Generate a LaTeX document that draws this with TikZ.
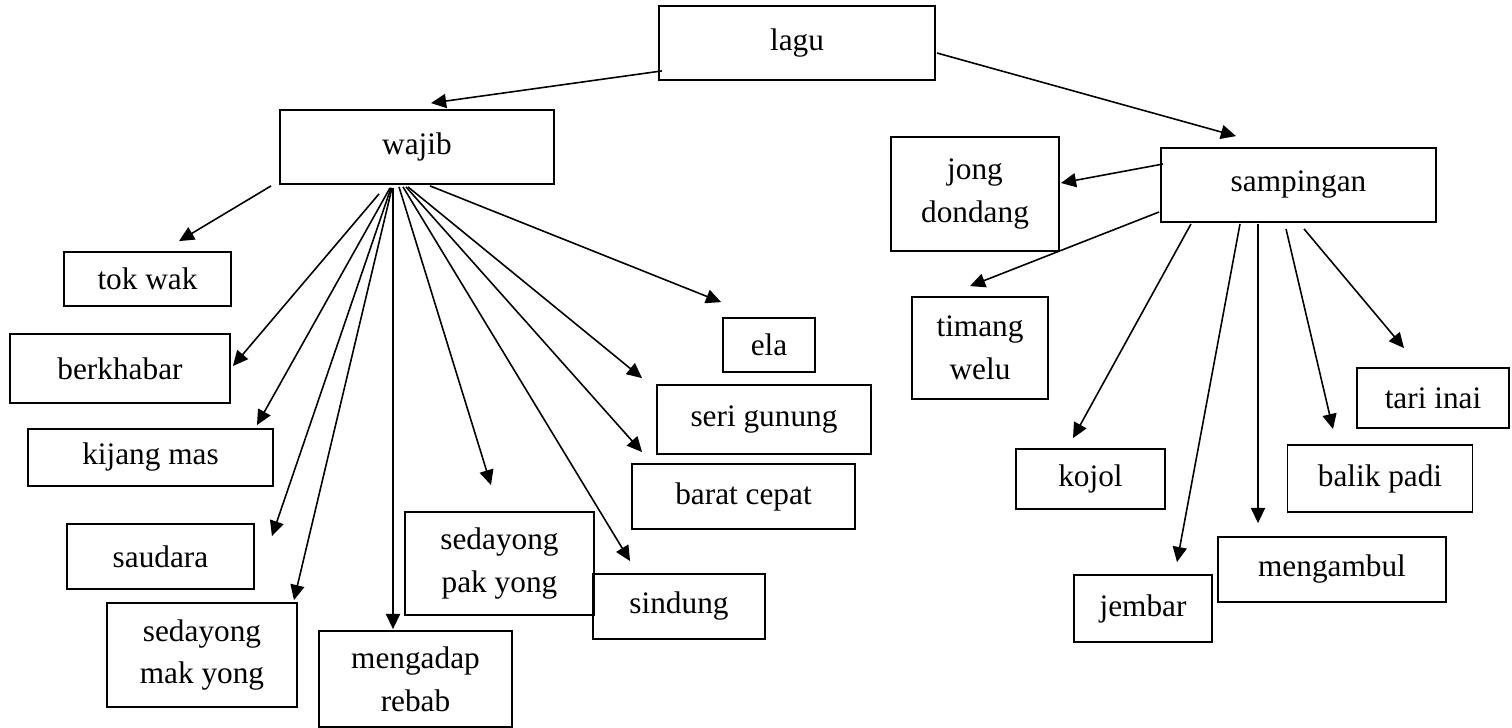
\documentclass[tikz,border=0pt]{standalone}
\usepackage{fontspec}
\setmainfont{Liberation Serif}
\usetikzlibrary{calc,arrows.meta}
\newcommand{\lbl}{\fontsize{8.9}{12.2}\selectfont}

\begin{document}
\begin{tikzpicture}[x=0.01cm,y=-0.01cm,
    box/.style={draw=black,line width=0.5pt,inner sep=0pt,align=center,font=\lbl},
    arr/.style={-{Triangle[length=4.3pt,width=4pt]},line width=0.45pt}]
     \useasboundingbox (0,0) rectangle (1512,727);
     \node[box,minimum width=2.76cm,minimum height=0.74cm] (lagu) at (797,43) {lagu};
     \node[box,minimum width=2.74cm,minimum height=0.74cm] (wajib) at (417,147) {wajib};
     \node[box,minimum width=2.75cm,minimum height=0.74cm] (samp) at (1298.5,185) {sampingan};
     \node[box,minimum width=1.67cm,minimum height=0.54cm] (tokwak) at (147.5,279) {tok wak};
     \node[box,minimum width=2.20cm,minimum height=0.69cm] (berkhabar) at (120,368.5) {berkhabar};
     \node[box,minimum width=2.45cm,minimum height=0.57cm] (kijang) at (150.5,457.5) {kijang mas};
     \node[box,minimum width=1.87cm,minimum height=0.65cm] (saudara) at (160.5,556.5) {saudara};
     \node[box,minimum width=1.90cm,minimum height=1.04cm] (sedmak) at (202,655) {sedayong\\mak yong};
     \node[box,minimum width=1.93cm,minimum height=0.96cm] (mengadap) at (415.5,679) {mengadap\\rebab};
     \node[box,minimum width=1.89cm,minimum height=1.03cm] (sedpak) at (499.5,563.5) {sedayong\\pak yong};
     \node[box,minimum width=1.72cm,minimum height=0.65cm] (sindung) at (679,606.5) {sindung};
     \node[box,minimum width=2.23cm,minimum height=0.65cm] (barat) at (743.5,496.5) {barat cepat};
     \node[box,minimum width=2.14cm,minimum height=0.69cm] (seri) at (764,419.5) {seri gunung};
     \node[box,minimum width=0.92cm,minimum height=0.54cm] (ela) at (769,345) {ela};
     \node[box,minimum width=1.68cm,minimum height=1.14cm] (jong) at (975,194) {jong\\dondang};
     \node[box,minimum width=1.36cm,minimum height=1.02cm] (timang) at (980,348) {timang\\welu};
     \node[box,minimum width=1.49cm,minimum height=0.60cm] (kojol) at (1090.5,479) {kojol};
     \node[box,minimum width=1.38cm,minimum height=0.67cm] (jembar) at (1143,608.5) {jembar};
     \node[box,minimum width=2.28cm,minimum height=0.65cm] (mengambul) at (1332,569.5) {mengambul};
     \node[box,minimum width=1.85cm,minimum height=0.67cm] (balik) at (1380,478.5) {balik padi};
     \node[box,minimum width=1.52cm,minimum height=0.60cm] (tari) at (1433,398) {tari inai};
     \draw[arr] ($(lagu.south west)+(4,-10)$) -- ($(wajib.north)+(14,-6)$);
     \draw[arr] ($(lagu.east)+(1,10)$) -- ($(samp.north)+(-62.5,-11)$);
     \draw[arr] ($(wajib.south west)+(-8,1)$) -- ($(tokwak.north)+(31.5,-10)$);
     \draw[arr] ($(wajib.south)+(-38,9)$) -- ($(berkhabar.east)+(2,-2.5)$);
     \draw[arr] ($(wajib.south)+(-27,3)$) -- ($(kijang.north east)+(-17,-3)$);
     \draw[arr] ($(wajib.south)+(-26,3)$) -- ($(saudara.north east)+(17,13)$);
     \draw[arr] ($(wajib.south)+(-25,3)$) -- ($(sedmak.north east)+(-4,-2)$);
     \draw[arr] ($(wajib.south)+(-24,3)$) -- ($(mengadap.north)+(-22.5,-1)$);
     \draw[arr] ($(wajib.south)+(-18,2)$) -- ($(sedpak.north)+(-8.5,-26)$);
     \draw[arr] ($(wajib.south)+(-14,2)$) -- ($(sindung.north west)+(38,-12)$);
     \draw[arr] ($(wajib.south)+(-11,2)$) -- ($(barat.north west)+(11,-11)$);
     \draw[arr] ($(wajib.south)+(-9,2)$) -- ($(seri.north west)+(-14,-6)$);
     \draw[arr] ($(wajib.south)+(13,1)$) -- ($(ela.north west)+(-1,-15)$);
     \draw[arr] ($(samp.west)+(3,-21)$) -- ($(jong.east)+(1,-11)$);
     \draw[arr] ($(samp.west)+(-1,27)$) -- ($(timang.north)+(-10,-10)$);
     \draw[arr] ($(samp.south)+(-107.5,1)$) -- ($(kojol.north)+(-17.5,-10)$);
     \draw[arr] ($(samp.south)+(-58.5,1)$) -- ($(jembar.north)+(34,-12)$);
     \draw[arr] ($(samp.south)+(-40.5,1)$) -- ($(mengambul.north)+(-74,-13)$);
     \draw[arr] ($(samp.south)+(-12.5,6)$) -- ($(balik.north)+(-47,-15)$);
     \draw[arr] ($(samp.south)+(5.5,6)$) -- ($(tari.north)+(-29,-19)$);
\end{tikzpicture}
\end{document}
